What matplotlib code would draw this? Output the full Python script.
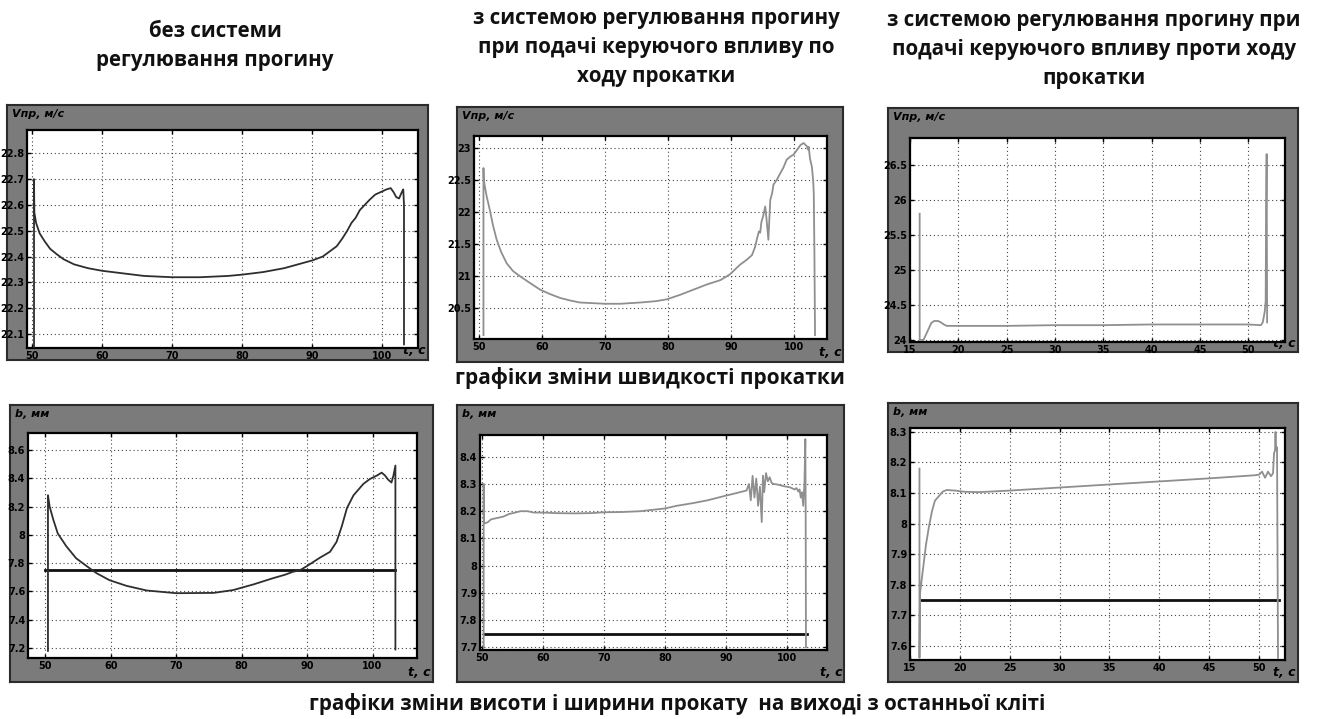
import numpy as np
import matplotlib.pyplot as plt
from matplotlib.ticker import FixedLocator, FuncFormatter

# --- data ---
# top row: rolling speed, Vпр (м/с)
t1 = [50.3, 50.3, 50.35, 50.6, 51.1, 51.8, 52.6, 53.5, 54.5, 56, 58, 60, 63, 66, 70, 74, 78, 80, 83, 86,
      88, 90, 91.5, 92.5, 93.5, 94.3, 95, 95.6, 96.2, 96.8, 97.5, 98.2, 99, 99.8, 100.6, 101.2, 101.6,
      102.0, 102.4, 102.8, 103.0, 103.1, 103.1]
v1 = [22.05, 22.70, 22.57, 22.53, 22.49, 22.46, 22.43, 22.41, 22.39, 22.37, 22.355, 22.345, 22.335,
      22.325, 22.32, 22.32, 22.325, 22.33, 22.34, 22.355, 22.37, 22.385, 22.40, 22.42, 22.44, 22.47,
      22.50, 22.53, 22.55, 22.58, 22.60, 22.62, 22.64, 22.65, 22.66, 22.665, 22.65, 22.63, 22.625,
      22.65, 22.66, 22.60, 22.06]

t2 = [50.7, 50.7, 50.75, 51.2, 51.7, 52.2, 52.8, 53.5, 54.4, 55.4, 56.5, 58, 59.7, 61.3, 62.9, 64.5,
      66, 68, 70, 72.4, 75.6, 78, 79.8, 81.9, 84, 86.1, 88.3, 89.8, 91.4, 92.5, 93.3, 93.8, 94.1, 94.4,
      94.6, 94.8, 95.1, 95.4, 95.6, 95.9, 96.2, 96.5, 96.7, 97.2, 97.8, 98.3, 98.8, 99.4, 99.9, 100.5,
      101, 101.5, 102, 102.2, 102.3, 102.5, 102.8, 103.0, 103.1, 103.2, 103.3]
v2 = [20.08, 22.69, 22.5, 22.25, 22.04, 21.8, 21.57, 21.38, 21.2, 21.08, 21.0, 20.9, 20.79, 20.72,
      20.66, 20.62, 20.59, 20.58, 20.57, 20.57, 20.59, 20.61, 20.64, 20.71, 20.79, 20.87, 20.94, 21.03,
      21.18, 21.26, 21.33, 21.46, 21.59, 21.70, 21.68, 21.85, 21.95, 22.09, 21.9, 21.57, 22.19, 22.3,
      22.43, 22.5, 22.61, 22.70, 22.82, 22.87, 22.90, 22.98, 23.05, 23.08, 23.03, 22.98, 23.02, 22.84,
      22.71, 22.5, 22.3, 21.41, 20.08]

t3 = [16.0, 16.0, 16.4, 16.8, 17.2, 17.5, 17.9, 18.2, 18.5, 18.8, 20, 25, 30, 35, 40, 45, 50, 51.3,
      51.5, 51.7, 51.8, 51.85, 51.9, 51.95]
v3 = [25.8, 24.0, 24.0, 24.12, 24.24, 24.27, 24.27, 24.25, 24.22, 24.2, 24.2, 24.2, 24.21, 24.21,
      24.22, 24.22, 24.22, 24.21, 24.25, 24.4, 24.55, 25.9, 26.65, 24.25]

# bottom row: strip width b (мм)
t4 = [50.4, 50.4, 50.66, 51.2, 51.9, 53.2, 54.7, 56.3, 57.8, 59.8, 62.4, 65.5, 70, 75.7, 78.7, 81.8,
      84.8, 86.6, 87.9, 88.9, 90, 92, 93.5, 94.5, 95.3, 96.1, 97.1, 98.6, 99.6, 100.7, 101.4, 101.9,
      102.4, 102.9, 103.2, 103.5, 103.5]
v4 = [7.18, 8.28, 8.20, 8.11, 8.01, 7.92, 7.835, 7.78, 7.73, 7.68, 7.64, 7.607, 7.588, 7.59, 7.61,
      7.65, 7.694, 7.718, 7.74, 7.75, 7.78, 7.84, 7.88, 7.95, 8.06, 8.19, 8.28, 8.36, 8.395, 8.42, 8.44,
      8.42, 8.39, 8.37, 8.42, 8.49, 7.19]

t5 = [50.3, 50.3, 50.35, 50.5, 51.0, 51.5, 52.5, 53.5, 54.5, 55.5, 56.3, 57.5, 58.5, 60, 62, 65, 68,
      70, 73, 76, 78, 80, 82, 84.7, 87, 90, 92, 93.4, 93.8, 94.1, 94.4, 94.7, 95.0, 95.3, 95.6, 95.9,
      96.1, 96.3, 96.6, 96.9, 97.2, 97.5, 97.8, 98.5, 99.5, 100.5, 101.3, 101.6, 101.9, 102.1, 102.3,
      102.5, 102.7, 102.9, 103.05, 103.1, 103.15]
v5 = [7.70, 8.30, 8.16, 8.155, 8.16, 8.17, 8.175, 8.18, 8.19, 8.195, 8.2, 8.2, 8.195, 8.195, 8.193,
      8.192, 8.193, 8.196, 8.197, 8.2, 8.205, 8.21, 8.22, 8.23, 8.24, 8.257, 8.268, 8.276, 8.30, 8.24,
      8.33, 8.25, 8.32, 8.22, 8.29, 8.16, 8.33, 8.27, 8.34, 8.31, 8.325, 8.305, 8.30, 8.298, 8.292,
      8.288, 8.28, 8.285, 8.272, 8.28, 8.25, 8.27, 8.22, 8.30, 8.465, 8.2, 7.70]

t6 = [15.95, 15.95, 16.0, 16.3, 16.6, 16.9, 17.2, 17.5, 17.9, 18.3, 18.7, 19.5, 20.5, 22, 25, 30, 35,
      40, 45, 49.5, 50.0, 50.3, 50.6, 50.9, 51.2, 51.4, 51.5, 51.6, 51.65, 51.7, 51.8, 51.9]
v6 = [8.18, 7.56, 7.77, 7.85, 7.93, 7.99, 8.04, 8.075, 8.09, 8.105, 8.11, 8.108, 8.104, 8.103, 8.108,
      8.118, 8.128, 8.138, 8.148, 8.158, 8.16, 8.17, 8.15, 8.17, 8.155, 8.165, 8.23, 8.24, 8.30, 8.24,
      8.25, 7.56]

# reference width level 7.75 mm and where it is drawn
b_ref = 7.75
ref_t4 = [50, 103.5]
ref_t5 = [50.3, 103.3]
ref_t6 = [16.0, 52.0]

xt_a = [50, 60, 70, 80, 90, 100]
xt_b = [15, 20, 25, 30, 35, 40, 45, 50]
yt1 = [22.1, 22.2, 22.3, 22.4, 22.5, 22.6, 22.7, 22.8]
yt2 = [20.5, 21, 21.5, 22, 22.5, 23]
yt3 = [24, 24.5, 25, 25.5, 26, 26.5]
yt4 = [7.2, 7.4, 7.6, 7.8, 8, 8.2, 8.4, 8.6]
yt5 = [7.7, 7.8, 7.9, 8, 8.1, 8.2, 8.3, 8.4]
yt6 = [7.6, 7.7, 7.8, 7.9, 8, 8.1, 8.2, 8.3]

titles = ['без системи\nрегулювання прогину',
          'з системою регулювання прогину\nпри подачі керуючого впливу по\nходу прокатки',
          'з системою регулювання прогину при\nподачі керуючого впливу проти ходу\nпрокатки']
cap_speed = 'графіки зміни швидкості прокатки'
cap_width = 'графіки зміни висоти і ширини прокату  на виході з останньої кліті'

W, H = 1322, 719
fig = plt.figure(figsize=(W / 100, H / 100), dpi=100)
fig.patch.set_facecolor('white')


def rect(x0, y0, x1, y1):
    return [x0 / W, 1 - y1 / H, (x1 - x0) / W, (y1 - y0) / H]


def panel(frame, inner, t, v, xlim, ylim, xt, yt, ylab, col, ref=None):
    bg = fig.add_axes(rect(*frame))
    bg.set_facecolor('#7b7b7b')
    bg.set_xticks([])
    bg.set_yticks([])
    for s in bg.spines.values():
        s.set_color('#2b2b2b')
        s.set_linewidth(1.5)
    bg.text(0.012, 0.985, ylab, transform=bg.transAxes, ha='left', va='top',
            fontsize=8, fontweight='bold', style='italic', color='black')
    bg.text(0.995, 0.01, 't, c', transform=bg.transAxes, ha='right', va='bottom',
            fontsize=9, fontweight='bold', style='italic', color='black')

    ax = fig.add_axes(rect(*inner))
    ax.set_facecolor('white')
    if ref is not None:
        ax.plot(ref, [b_ref, b_ref], color='#111111', lw=2.0, zorder=3)
    ax.plot(t, v, color=col, lw=1.3, zorder=4)
    ax.set_xlim(*xlim)
    ax.set_ylim(*ylim)
    ax.xaxis.set_major_locator(FixedLocator(xt))
    ax.yaxis.set_major_locator(FixedLocator(yt))
    ax.yaxis.set_major_formatter(FuncFormatter(lambda y, p: f'{y:g}'))
    ax.xaxis.set_major_formatter(FuncFormatter(lambda x, p: f'{x:g}'))
    ax.grid(True, color='#444444', lw=0.8, linestyle=(0, (1, 2.5)))
    ax.tick_params(direction='in', length=3, width=1, top=True, right=True,
                   labelsize=7, pad=2, colors='black')
    for lab in ax.get_xticklabels() + ax.get_yticklabels():
        lab.set_fontweight('bold')
    for s in ax.spines.values():
        s.set_color('black')
        s.set_linewidth(1.6)
    return ax


dark = '#2e2e2e'
grey = '#8f8f8f'

panel((7, 105, 428, 360), (27, 130, 418, 348), t1, v1, (49.3, 105.1), (22.046, 22.89),
      xt_a, yt1, 'Vпр, м/с', dark)
panel((457, 107, 843, 362), (474, 136, 827, 339), t2, v2, (49.2, 105.2), (20.02, 23.19),
      xt_a, yt2, 'Vпр, м/с', grey)
panel((888, 108, 1298, 352), (910, 138, 1285, 342), t3, v3, (15.0, 53.8), (23.97, 26.88),
      xt_b, yt3, 'Vпр, м/с', grey)
panel((10, 405, 433, 682), (28, 433, 417, 658), t4, v4, (47.35, 106.8), (7.13, 8.72),
      xt_a, yt4, 'b, мм', dark, ref_t4)
panel((457, 405, 844, 682), (480, 435, 827, 650), t5, v5, (49.7, 106.6), (7.69, 8.48),
      xt_a, yt5, 'b, мм', grey, ref_t5)
panel((888, 403, 1298, 682), (910, 428, 1285, 660), t6, v6, (15.0, 52.6), (7.553, 8.313),
      xt_b, yt6, 'b, мм', grey, ref_t6)

tfont = dict(fontfamily='Open Sans', fontweight='bold', fontsize=14.8, color='#111111',
             ha='center', va='top', linespacing=1.5)
fig.text(215 / W, 1 - 21 / H, titles[0], **tfont)
fig.text(656 / W, 1 - 8 / H, titles[1], **tfont)
fig.text(1094 / W, 1 - 10 / H, titles[2], **tfont)
fig.text(650 / W, 1 - 378 / H, cap_speed, fontfamily='Open Sans', fontweight='bold',
         fontsize=15, color='#111111', ha='center', va='center')
fig.text(677 / W, 1 - 704 / H, cap_width, fontfamily='Open Sans', fontweight='bold',
         fontsize=14.8, color='#111111', ha='center', va='center')

fig.savefig('out.png', dpi=100)
